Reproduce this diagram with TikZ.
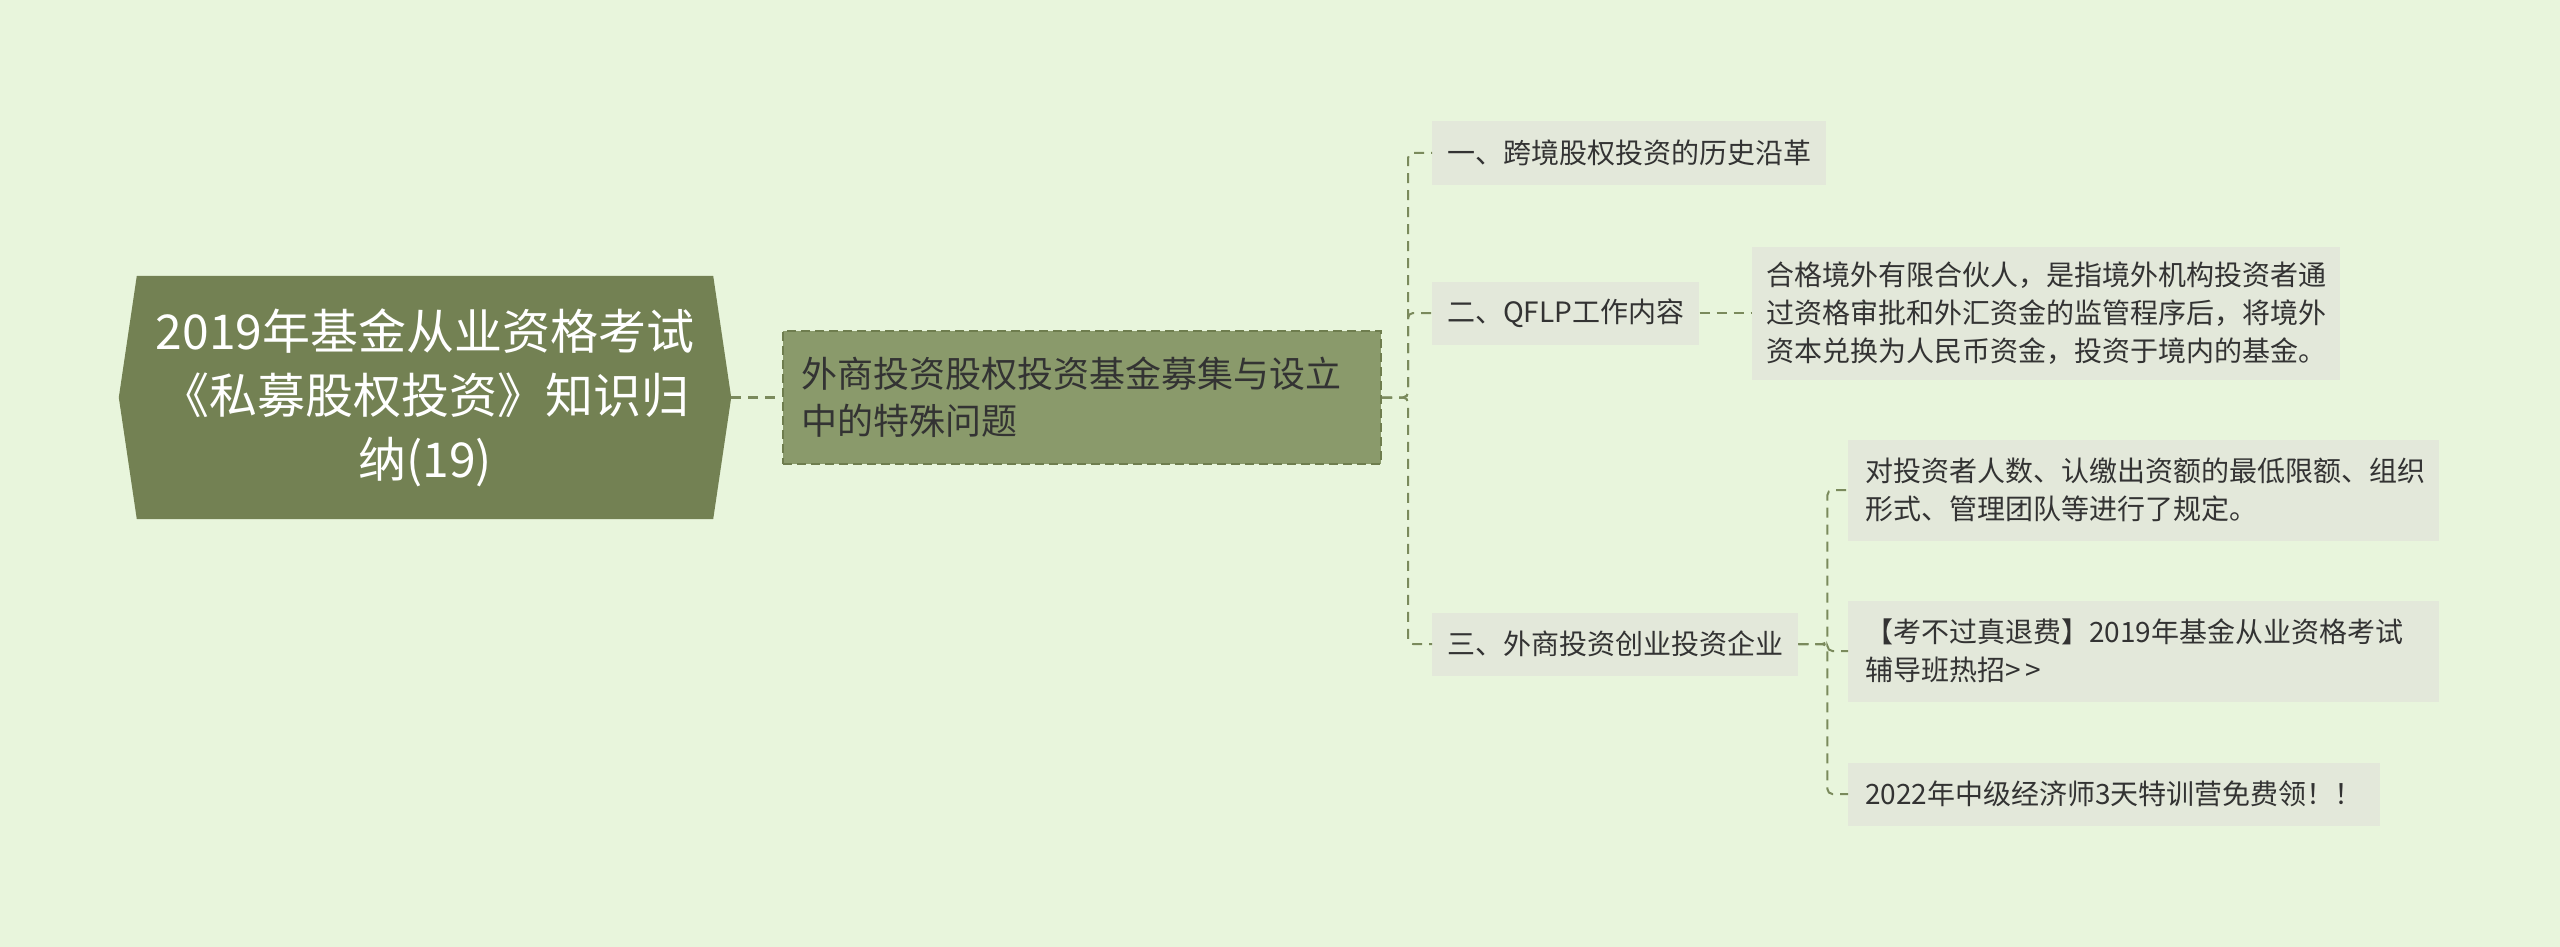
\documentclass[tikz,border=0pt]{standalone}
\usepackage{fontspec}
\setmainfont{Noto Sans CJK SC}
\definecolor{bg}{HTML}{E8F5DC}
\definecolor{rootc}{HTML}{738153}
\definecolor{subc}{HTML}{8A9A6B}
\definecolor{subb}{HTML}{6E7D4E}
\definecolor{leafc}{HTML}{E3E8DA}
\definecolor{linec}{HTML}{7A8A5C}
\definecolor{txt}{HTML}{333333}
\begin{document}
\begin{tikzpicture}[x=1pt,y=-1pt,
  leafbox/.style={fill=leafc, text=txt, font=\fontsize{28}{38}\selectfont, align=left,
    inner xsep=15pt, inner ysep=0pt, anchor=west, minimum height=63pt},
  link/.style={draw=linec, line width=2pt, dash pattern=on 10pt off 7pt, rounded corners=5pt}]
\fill[bg] (0,0) rectangle (2560,947);
\useasboundingbox (0,0) rectangle (2560,947);
% root
\node[minimum width=612pt, minimum height=243pt, inner sep=0pt] (root) at (425,397.5) {};
\fill[rootc] (root.west) -- ([xshift=18pt]root.north west) -- ([xshift=-18pt]root.north east)
  -- (root.east) -- ([xshift=-18pt]root.south east) -- ([xshift=18pt]root.south west) -- cycle;
\node[text=white, font=\fontsize{48}{64}\selectfont, align=center] (roottext) at (root.center)
  {2019年基金从业资格考试\\《私募股权投资》知识归\\纳(19)};
% sub
\node[fill=subc, draw=subb, line width=2pt, dash pattern=on 9pt off 5pt, text=txt,
  font=\fontsize{36}{47}\selectfont, align=left, anchor=west,
  text width=562pt, inner xsep=18pt, minimum height=133pt] (sub) at (782,397.5)
  {外商投资股权投资基金募集与设立\\中的特殊问题};
% branches
\node[leafbox] (b1) at (1432,153) {一、跨境股权投资的历史沿革};
\node[leafbox] (b2) at (1432,313) {二、QFLP工作内容};
\node[leafbox] (b3) at (1432,644) {三、外商投资创业投资企业};
% leaves
\node[leafbox, inner xsep=14pt, text width=560pt, minimum height=133pt] (q1) at (1752,313)
  {合格境外有限合伙人，是指境外机构投资者通\\过资格审批和外汇资金的监管程序后，将境外\\资本兑换为人民币资金，投资于境内的基金。};
\node[leafbox, inner xsep=17pt, text width=557pt, minimum height=101pt] (c1) at (1848,490)
  {对投资者人数、认缴出资额的最低限额、组织\\形式、管理团队等进行了规定。};
\node[leafbox, inner xsep=17pt, text width=557pt, minimum height=101pt] (c2) at (1848,651)
  {【考不过真退费】2019年基金从业资格考试\\辅导班热招{>}\,{>}};
\node[leafbox, inner xsep=17pt] (c3) at (1848,794) {2022年中级经济师3天特训营免费领！！};
% connectors
\draw[link, line width=3pt] (root.east) -- (sub.west);
\draw[link] (sub.east) -- ++(26,0) |- (b1.west);
\draw[link] (sub.east) -- ++(26,0) |- (b2.west);
\draw[link] (sub.east) -- ++(26,0) |- (b3.west);
\draw[link] (b2.east) -- (q1.west);
\draw[link] (b3.east) -- ++(29,0) |- (c1.west);
\draw[link] (b3.east) -- ++(29,0) |- (c2.west);
\draw[link] (b3.east) -- ++(29,0) |- (c3.west);
\end{tikzpicture}
\end{document}
